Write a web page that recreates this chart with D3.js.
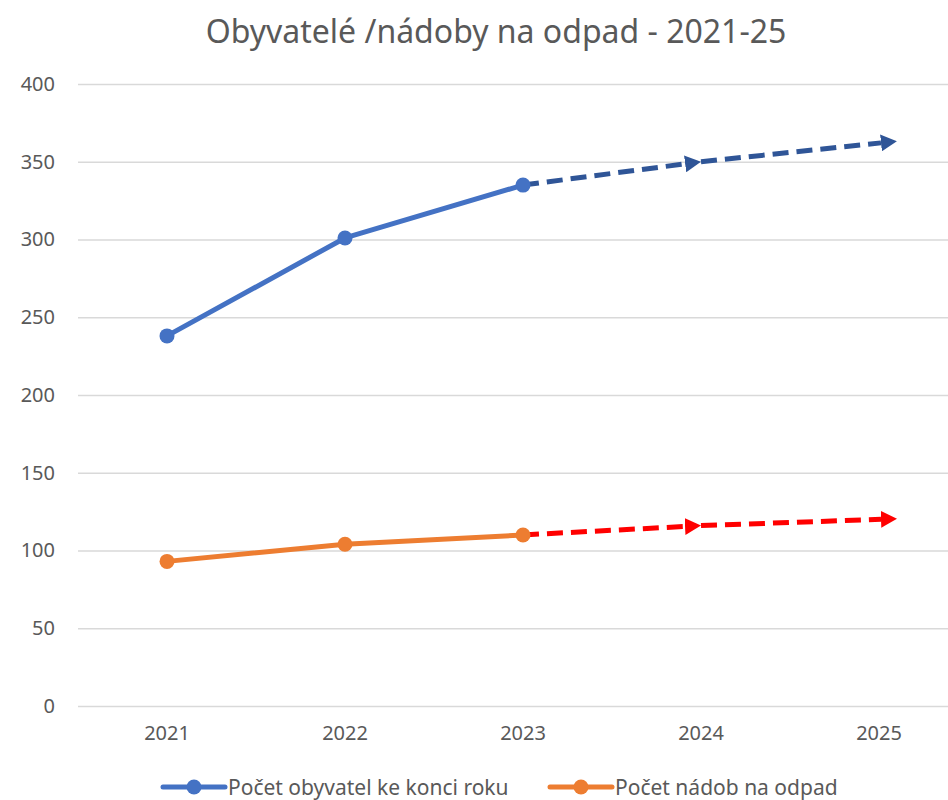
<!DOCTYPE html>
<html>
<head>
<meta charset="utf-8">
<script src="https://cdn.jsdelivr.net/npm/d3@7"></script>
<style>
  body { margin: 0; background: #fff; }
  svg { display: block; }
  svg text { font-family: "Noto Sans", "Open Sans", sans-serif; }
</style>
</head>
<body>
<div id="chart"></div>
<script>
// Data
const years = ['2021', '2022', '2023', '2024', '2025'];
const actualYears = ['2021', '2022', '2023'];
const forecastYears = ['2023', '2024', '2025'];
const obyvatele = [238, 301, 335];
const obyvateleOdhad = [335, 350, 362];
const nadoby = [93, 104, 110];
const nadobyOdhad = [110, 116, 120];
const yTicks = [0, 50, 100, 150, 200, 250, 300, 350, 400];
const seriesNames = ['Počet obyvatel ke konci roku', 'Počet nádob na odpad'];

const width = 948, height = 800;
const textColor = '#595959';

const svg = d3.select('#chart').append('svg')
    .attr('width', width)
    .attr('height', height);

// Scales
const x = d3.scaleBand().domain(years).range([78, 968]);
const y = d3.scaleLinear().domain([0, 400]).range([706, 84]);
const cx = d => x(d) + x.bandwidth() / 2;

// Title
svg.append('text')
    .attr('x', 496).attr('y', 43)
    .attr('text-anchor', 'middle')
    .attr('fill', textColor)
    .style('font-size', '32px')
    .text('Obyvatelé /nádoby na odpad - 2021-25');

// Grid + y labels
const yAxis = svg.append('g')
    .attr('transform', 'translate(78,0)')
    .call(d3.axisLeft(y).tickValues(yTicks).tickSize(-890).tickPadding(23));
yAxis.select('.domain').remove();
yAxis.selectAll('.tick line').attr('stroke', '#d9d9d9').attr('stroke-width', 1.3);
yAxis.selectAll('.tick text').attr('fill', textColor).style('font-size', '20px');

// x labels
const xAxis = svg.append('g')
    .attr('transform', 'translate(0,706)')
    .call(d3.axisBottom(x).tickSize(0).tickPadding(20));
xAxis.select('.domain').remove();
xAxis.selectAll('.tick text').attr('fill', textColor).style('font-size', '20px');

// Arrow markers
const defs = svg.append('defs');
function addArrow(id, color) {
    defs.append('marker')
        .attr('id', id)
        .attr('markerUnits', 'userSpaceOnUse')
        .attr('viewBox', '0 0 16 17')
        .attr('markerWidth', 16).attr('markerHeight', 17)
        .attr('refX', 0).attr('refY', 8.5)
        .attr('orient', 'auto')
        .append('path')
        .attr('d', 'M0,0 L16,8.5 L0,17 Z')
        .attr('fill', color);
}
addArrow('arrow-blue', '#2f5597');
addArrow('arrow-red', '#ff0000');

// Dashed forecast segments ending in arrows
function drawForecast(values, color, markerId) {
    const arrowLen = 16;
    for (let i = 0; i < forecastYears.length - 1; i++) {
        const x1 = cx(forecastYears[i]), y1 = y(values[i]);
        const x2 = cx(forecastYears[i + 1]), y2 = y(values[i + 1]);
        const dx = x2 - x1, dy = y2 - y1;
        const len = Math.hypot(dx, dy);
        // last arrow overshoots its point a little, as in the original
        const extra = i === forecastYears.length - 2 ? 18 : 0;
        const k = (len + extra - arrowLen) / len;
        svg.append('line')
            .attr('x1', x1).attr('y1', y1)
            .attr('x2', x1 + dx * k).attr('y2', y1 + dy * k)
            .attr('stroke', color)
            .attr('stroke-width', 5)
            .attr('stroke-dasharray', '16,8')
            .attr('marker-end', `url(#${markerId})`);
    }
}
drawForecast(obyvateleOdhad, '#2f5597', 'arrow-blue');
drawForecast(nadobyOdhad, '#ff0000', 'arrow-red');

// Solid actual lines
const line = d3.line().x(d => cx(d[0])).y(d => y(d[1]));
function drawActual(values, color) {
    const pts = actualYears.map((yr, i) => [yr, values[i]]);
    svg.append('path')
        .attr('d', line(pts))
        .attr('fill', 'none')
        .attr('stroke', color)
        .attr('stroke-width', 5)
        .attr('stroke-linejoin', 'round');
    svg.selectAll(null).data(pts).enter().append('circle')
        .attr('cx', d => cx(d[0]))
        .attr('cy', d => y(d[1]))
        .attr('r', 7.5)
        .attr('fill', color);
}
drawActual(obyvatele, '#4472c4');
drawActual(nadoby, '#ed7d31');

// Legend
const legendColors = ['#4472c4', '#ed7d31'];
const legendX = [163, 550];
seriesNames.forEach((name, i) => {
    const g = svg.append('g').attr('transform', `translate(${legendX[i]},787)`);
    g.append('line').attr('x1', 0).attr('x2', 62)
        .attr('stroke', legendColors[i]).attr('stroke-width', 5)
        .attr('stroke-linecap', 'round');
    g.append('circle').attr('cx', 31).attr('r', 7.5).attr('fill', legendColors[i]);
    g.append('text').attr('x', 65).attr('y', 7.5)
        .attr('fill', textColor)
        .style('font-size', '21px')
        .text(name);
});
</script>
</body>
</html>
